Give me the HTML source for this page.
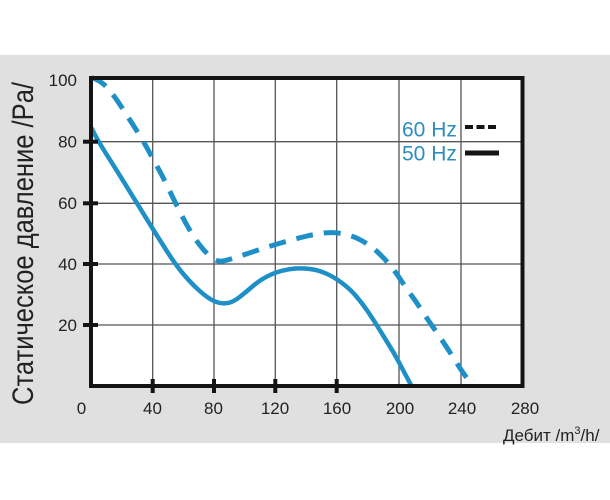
<!DOCTYPE html>
<html><head><meta charset="utf-8"><style>
html,body{margin:0;padding:0;background:#fff;}
svg{display:block;}
text{font-family:"Liberation Sans",Arial,sans-serif;}
</style></head><body>
<svg width="610" height="500" viewBox="0 0 610 500" xmlns="http://www.w3.org/2000/svg">
<rect x="0" y="0" width="610" height="500" fill="#ffffff"/>
<rect x="0" y="55" width="610" height="388" fill="#e0e0e0"/>
<rect x="91" y="78" width="431.5" height="308" fill="#ffffff"/>
<g stroke="#555" stroke-width="1.3" fill="none">
<line x1="152.7" y1="78" x2="152.7" y2="386"/>
<line x1="214" y1="78" x2="214" y2="386"/>
<line x1="275.3" y1="78" x2="275.3" y2="386"/>
<line x1="336.7" y1="78" x2="336.7" y2="386"/>
<line x1="399" y1="78" x2="399" y2="386"/>
<line x1="461" y1="78" x2="461" y2="386"/>
<line x1="91" y1="141.7" x2="522.5" y2="141.7"/>
<line x1="91" y1="203.3" x2="522.5" y2="203.3"/>
<line x1="91" y1="264" x2="522.5" y2="264"/>
<line x1="91" y1="325" x2="522.5" y2="325"/>
</g>
<g fill="none" stroke="#1f8fc8" stroke-linejoin="round">
<path stroke-width="4.5" d="M91.5,128 L95,134.85 Q98.5,141.7 108.25,157.1 Q118,172.5 127.5,187.9 Q137,203.3 146.5,218.65 Q156,234 165.5,249 Q175,264 182.5,273 Q190,282 197,288.5 Q204,295 209,298.25 Q214,301.5 219,302.75 Q224,304 229,302.75 Q234,301.5 240,296.75 Q246,292 253,286 Q260,280 267.5,276.25 Q275,272.5 282,270.75 Q289,269 295.5,268.5 Q302,268 310,269 Q318,270 326,273.5 Q334,277 342,283 Q350,289 356,296 Q362,303 367.5,311 Q373,319 378.5,328 Q384,337 389,345 Q394,353 398.5,361.5 Q403,370 407.25,378 L411.5,386"/>
<path stroke-width="5" stroke-dasharray="17,11" d="M91.5,77.5 L95.75,79.25 Q100,81 104,84.5 Q108,88 112.5,94 Q117,100 122.5,108.5 Q128,117 132.5,124 Q137,131 141.5,138.5 Q146,146 149.5,152.5 Q153,159 158,168 Q163,177 169,189.5 Q175,202 180.5,213 Q186,224 191.5,233 Q197,242 202.5,248.5 Q208,255 213,258.5 Q218,262 223,261 Q228,260 236.5,257.25 Q245,254.5 257.5,250.25 Q270,246 282.5,242.5 Q295,239 305,236.5 Q315,234 324,233 Q333,232 341.5,233.5 Q350,235 357.5,238.5 Q365,242 371,246.5 Q377,251 385,259.5 Q393,268 399.5,278 Q406,288 411.5,295.5 Q417,303 422.5,311.5 Q428,320 434,328.5 Q440,337 446.5,347 Q453,357 458,365 Q463,373 468,379.5 L473,386"/>
</g>
<rect x="91" y="78" width="431.5" height="308" fill="none" stroke="#141414" stroke-width="4"/>
<g stroke="#141414" stroke-width="4">
<line x1="83" y1="141.7" x2="98" y2="141.7"/>
<line x1="83" y1="203.3" x2="98" y2="203.3"/>
<line x1="83" y1="264" x2="98" y2="264"/>
<line x1="83" y1="325" x2="98" y2="325"/>
<line x1="152.7" y1="379" x2="152.7" y2="393"/>
<line x1="214" y1="379" x2="214" y2="393"/>
<line x1="275.3" y1="379" x2="275.3" y2="393"/>
<line x1="336.7" y1="379" x2="336.7" y2="393"/>
</g>
<g font-size="17" fill="#222" text-anchor="end">
<text x="77" y="86">100</text>
<text x="77" y="147.5">80</text>
<text x="77" y="209">60</text>
<text x="77" y="270">40</text>
<text x="77" y="331">20</text>
</g>
<g font-size="17" fill="#222" text-anchor="middle">
<text x="81.5" y="414">0</text>
<text x="152.5" y="414">40</text>
<text x="213.5" y="414">80</text>
<text x="275" y="414">120</text>
<text x="337" y="414">160</text>
<text x="400" y="414">200</text>
<text x="462" y="414">240</text>
<text x="525" y="414">280</text>
</g>
<text x="503" y="441" font-size="17" fill="#222">Дебит /m<tspan dy="-7" font-size="11">3</tspan><tspan dy="7">/h/</tspan></text>
<text transform="translate(33,405) rotate(-90)" font-size="30" fill="#222" textLength="323" lengthAdjust="spacingAndGlyphs">Статическое давление /Pa/</text>
<g font-size="21" fill="#2e8dc0">
<text x="402" y="136.5">60 Hz</text>
<text x="402" y="160.5">50 Hz</text>
</g>
<line x1="465" y1="127" x2="498" y2="127" stroke="#141414" stroke-width="4" stroke-dasharray="8,3.5"/>
<line x1="465" y1="153" x2="499" y2="153" stroke="#141414" stroke-width="5"/>
</svg>
</body></html>
